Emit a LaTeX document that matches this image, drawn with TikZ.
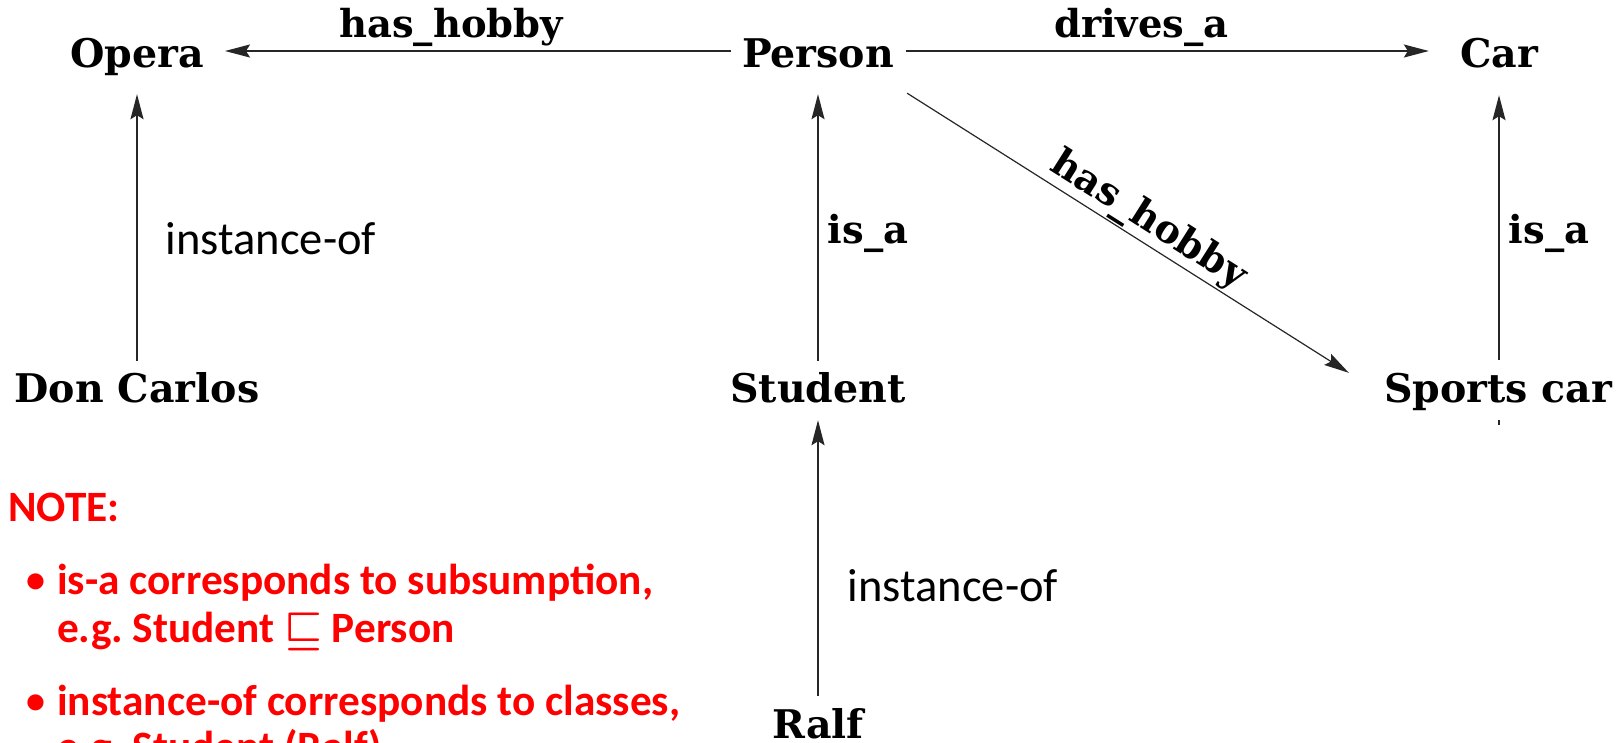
\documentclass[tikz,border=0pt]{standalone}
\usepackage{fontspec}
\setmainfont{DejaVu Serif}
\newfontfamily\calib{Carlito}
\usetikzlibrary{arrows.meta}
\begin{document}
\begin{tikzpicture}[x=1pt,y=-1pt,
  concept/.style={font=\fontsize{39.5}{41}\selectfont\bfseries, inner sep=0pt, text height=38pt, text depth=6pt, anchor=base},
  arr/.style={-{Stealth[length=25pt,width=13pt,inset=4pt]}, line width=1.6pt, draw=black!85},
  rel/.style={font=\fontsize{38.5}{40}\selectfont\bfseries, inner sep=0pt},
  inst/.style={font=\calib\fontsize{46.5}{48}\selectfont, inner sep=0pt},
  note/.style={font=\calib\bfseries\fontsize{43.3}{45}\selectfont, text=red, inner sep=0pt, anchor=base west},
  bullet/.style={font=\calib\bfseries\fontsize{38}{40}\selectfont, text=red, inner sep=0pt, anchor=base west}]
\path[use as bounding box, clip] (0,0) rectangle (1616,742);

% concepts
\node[concept] (opera)   at (137,67)  {Opera};
\node[concept] (person)  at (818,67)  {Person};
\node[concept] (car)     at (1499,67) {Car};
\node[concept] (don)     at (137,402) {Don Carlos};
\node[concept] (student) at (818,402) {Student};
\node[concept] (sports)  at (1498,402) {Sports car};
\node[concept] (ralf)    at (818,738) {Ralf};

% relations
\draw[arr] ([xshift=-11pt]person.west) -- node[rel, anchor=base, yshift=14pt, pos=0.553]{has\_hobby} ([xshift=21pt]opera.east);
\draw[arr] ([xshift=12pt]person.east) -- node[rel, anchor=base, yshift=14pt, pos=0.45]{drives\_a} ([xshift=-31pt]car.west);
\draw[arr] ([yshift=3pt]don.north) -- node[inst, anchor=base west, xshift=28pt, pos=0.40]{instance-of} ([yshift=-21pt]opera.south);
\draw[arr] ([yshift=3pt]student.north) -- node[rel, anchor=base west, xshift=9pt, pos=0.44]{is\_a} ([yshift=-21pt]person.south);
\draw[arr] ([yshift=4pt]ralf.north) -- node[inst, anchor=base west, xshift=29pt, pos=0.344]{instance-of} ([yshift=-12pt]student.south);
\draw[arr] ([yshift=4pt]sports.north -| car.south) -- node[rel, anchor=base west, xshift=9pt, pos=0.44]{is\_a} ([yshift=-22pt]car.south);
\draw[arr, line width=1.2pt] ([shift={(13pt,-20pt)}]person.south east) -- node[rel, sloped, above=1.5pt, pos=0.52]{has\_hobby} ([shift={(-35pt,-9pt)}]sports.north west);

% small tick below Sports car
\coordinate (tick) at ([yshift=-12pt]sports.south -| car.south);
\draw[line width=1.6pt, black!85] (tick) -- ++(0,5);

% note
\node[note] (n0) at (8,521) {NOTE:};
\node[bullet] (b1) at (26,592) {•};
\node[note] (l1) at (57,594) {is-a corresponds to subsumption,};
\node[note] (l2) at (57,642) {e.g.\ Student \scalebox{1.7}{\boldmath$\sqsubseteq$} Person};
\node[bullet] (b2) at (26,713) {•};
\node[note] (l3) at (57,715) {instance-of corresponds to classes,};
\node[note] (l4) at (57,761) {e.g.\ Student (Ralf)};
\end{tikzpicture}
\end{document}
